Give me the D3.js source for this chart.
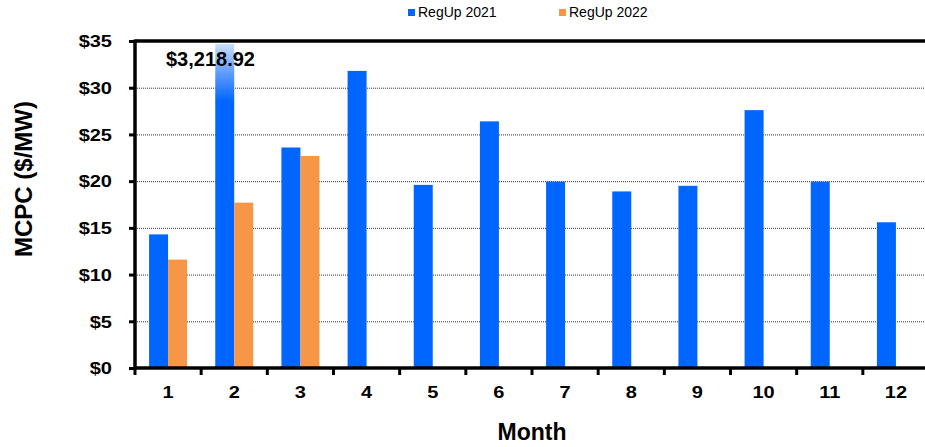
<!DOCTYPE html>
<html>
<head>
<meta charset="utf-8">
<script src="https://cdn.jsdelivr.net/npm/d3@7"></script>
<style>
  body { margin: 0; background: #fff; }
  text { font-family: "Liberation Sans", Arial, sans-serif; fill: #000; }
</style>
</head>
<body>
<script>
// values
var months = [1, 2, 3, 4, 5, 6, 7, 8, 9, 10, 11, 12];
var regUp2021 = [14.3, 3218.92, 23.6, 31.8, 19.6, 26.4, 19.95, 18.9, 19.5, 27.6, 19.95, 15.6];
var regUp2022 = [11.6, 17.7, 22.7, null, null, null, null, null, null, null, null, null];
var yTicks = [0, 5, 10, 15, 20, 25, 30, 35];
var seriesNames = ["RegUp 2021", "RegUp 2022"];
var seriesColors = ["#0066ff", "#f79646"];

var width = 925, height = 447;
var margin = { left: 135, right: -4, top: 41, bottom: 79 };

var svg = d3.select("body").append("svg")
  .attr("width", width)
  .attr("height", height);

var xScale = d3.scaleBand()
  .domain(months)
  .range([margin.left, width - margin.right])
  .padding(0);

var yScale = d3.scaleLinear()
  .domain([0, 35])
  .range([height - margin.bottom, margin.top]);

var barWidth = 19;

// fade for the off-scale bar
var defs = svg.append("defs");
var grad = defs.append("linearGradient")
  .attr("id", "fade")
  .attr("gradientUnits", "userSpaceOnUse")
  .attr("x1", 0).attr("x2", 0)
  .attr("y1", yScale(35)).attr("y2", yScale(28.5));
grad.append("stop").attr("offset", 0).attr("stop-color", "#d6e6ff");
grad.append("stop").attr("offset", 0.45).attr("stop-color", "#6fa6ff");
grad.append("stop").attr("offset", 1).attr("stop-color", "#0066ff");

// gridlines
svg.append("g")
  .selectAll("line")
  .data(yTicks.filter(function (t) { return t > 0 && t < 35; }))
  .enter()
  .append("line")
  .attr("x1", margin.left)
  .attr("x2", width)
  .attr("y1", function (d) { return yScale(d) + 0.5; })
  .attr("y2", function (d) { return yScale(d) + 0.5; })
  .attr("stroke", "#333")
  .attr("stroke-width", 1)
  .attr("stroke-dasharray", "1,1");

// bars
var rows = months.map(function (m, i) {
  return { month: m, a: regUp2021[i], b: regUp2022[i] };
});

var groups = svg.append("g").selectAll("g")
  .data(rows)
  .enter()
  .append("g");

groups.append("rect")
  .attr("x", function (d) { return xScale(d.month) + xScale.bandwidth() / 2 - barWidth; })
  .attr("y", function (d) { return d.a > 35 ? yScale(35) + 3 : yScale(d.a); })
  .attr("width", barWidth)
  .attr("height", function (d) { return yScale(0) - (d.a > 35 ? yScale(35) + 3 : yScale(d.a)); })
  .attr("fill", function (d) { return d.a > 35 ? "url(#fade)" : seriesColors[0]; });

groups.filter(function (d) { return d.b != null; })
  .append("rect")
  .attr("x", function (d) { return xScale(d.month) + xScale.bandwidth() / 2; })
  .attr("y", function (d) { return yScale(d.b); })
  .attr("width", barWidth)
  .attr("height", function (d) { return yScale(0) - yScale(d.b); })
  .attr("fill", seriesColors[1]);

// label for the off-scale value
svg.append("text")
  .attr("x", 166)
  .attr("y", 66)
  .style("font-size", "20px")
  .style("font-weight", "bold")
  .text(d3.format("$,.2f")(regUp2021[1]));

// y axis
var yAxis = d3.axisLeft(yScale)
  .tickValues(yTicks)
  .tickSize(6)
  .tickPadding(0)
  .tickFormat(function (d) { return "$" + d; });
var gy = svg.append("g")
  .attr("transform", "translate(" + margin.left + ",0)")
  .call(yAxis);
gy.select(".domain").remove();
gy.selectAll(".tick line").attr("stroke", "#000").attr("stroke-width", 3);
gy.selectAll(".tick text").remove();
gy.selectAll(".tick")
  .append("text")
  .attr("transform", "translate(-23,0) scale(1.25,1)")
  .attr("dy", "0.36em")
  .style("text-anchor", "end")
  .style("font-size", "16px")
  .style("font-weight", "bold")
  .text(function (d) { return "$" + d; });

// x axis
var xAxis = d3.axisBottom(xScale)
  .tickSize(0)
  .tickPadding(0);
var gx = svg.append("g")
  .attr("transform", "translate(0," + yScale(0) + ")")
  .call(xAxis);
gx.select(".domain").remove();
gx.selectAll(".tick text").remove();
gx.selectAll(".tick")
  .append("text")
  .attr("transform", "translate(0,30) scale(1.25,1)")
  .style("text-anchor", "middle")
  .style("font-size", "16px")
  .style("font-weight", "bold")
  .text(function (d) { return d; });

// category boundary ticks
svg.append("g")
  .selectAll("line")
  .data(months.concat([13]))
  .enter()
  .append("line")
  .attr("x1", function (d) { return d <= 12 ? xScale(d) : width - margin.right; })
  .attr("x2", function (d) { return d <= 12 ? xScale(d) : width - margin.right; })
  .attr("y1", yScale(0))
  .attr("y2", yScale(0) + 7)
  .attr("stroke", "#000")
  .attr("stroke-width", 3);

// frame: left, bottom, top
svg.append("line")
  .attr("x1", margin.left).attr("x2", margin.left)
  .attr("y1", yScale(35) - 1.5).attr("y2", yScale(0) + 1.5)
  .attr("stroke", "#000").attr("stroke-width", 3.5);
svg.append("line")
  .attr("x1", margin.left).attr("x2", width)
  .attr("y1", yScale(0)).attr("y2", yScale(0))
  .attr("stroke", "#000").attr("stroke-width", 3.5);
svg.append("line")
  .attr("x1", margin.left).attr("x2", width)
  .attr("y1", yScale(35)).attr("y2", yScale(35))
  .attr("stroke", "#000").attr("stroke-width", 3.5);

// axis titles
svg.append("text")
  .attr("transform", "translate(32,179) rotate(-90)")
  .style("text-anchor", "middle")
  .style("font-size", "24px")
  .style("font-weight", "bold")
  .text("MCPC ($/MW)");

svg.append("text")
  .attr("x", (margin.left + width - margin.right) / 2)
  .attr("y", 440)
  .style("text-anchor", "middle")
  .style("font-size", "23px")
  .style("font-weight", "bold")
  .text("Month");

// legend
var legendX = [408, 559];
var legend = svg.append("g").selectAll("g")
  .data(seriesNames)
  .enter()
  .append("g")
  .attr("transform", function (d, i) { return "translate(" + legendX[i] + ",9)"; });
legend.append("rect")
  .attr("width", 7)
  .attr("height", 7)
  .attr("fill", function (d, i) { return seriesColors[i]; });
legend.append("text")
  .attr("x", 10)
  .attr("y", 8)
  .style("font-size", "14px")
  .text(function (d) { return d; });
</script>
</body>
</html>
